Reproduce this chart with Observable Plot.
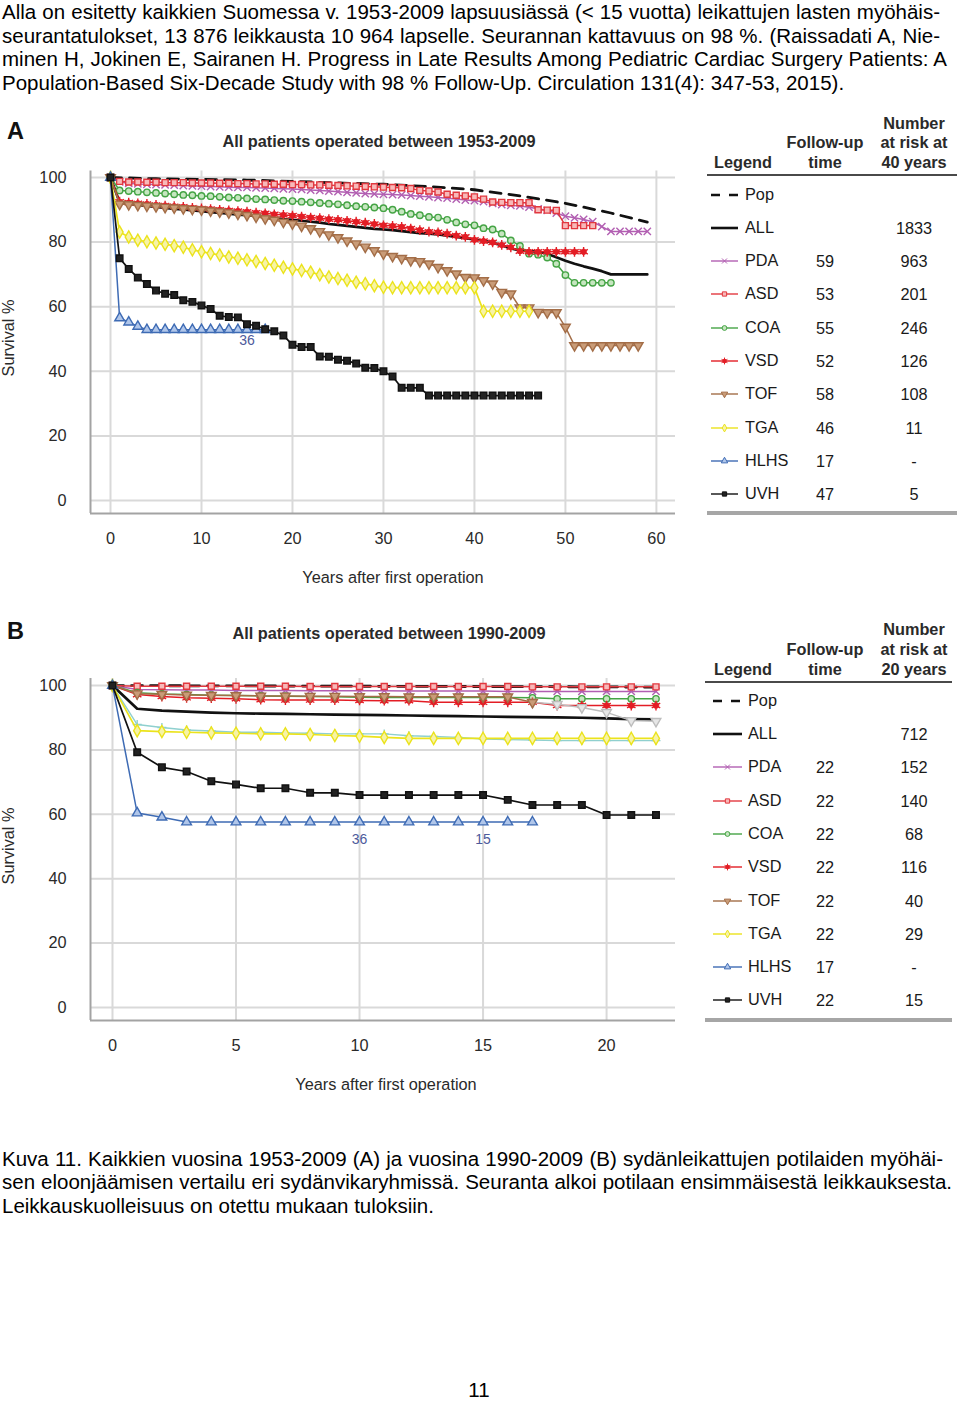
<!DOCTYPE html>
<html><head><meta charset="utf-8">
<script src="https://cdn.jsdelivr.net/npm/d3@7"></script>
<script src="https://cdn.jsdelivr.net/npm/@observablehq/plot@0.6"></script>
<style>
body{margin:0;background:#fff;}
#page{position:relative;width:960px;height:1402px;font-family:"Liberation Sans",Arial,Helvetica,sans-serif;color:#000;overflow:hidden;background:#fff}
.ln{position:absolute;left:2px;font-size:20.5px;line-height:23.5px;height:23.5px;overflow:visible;white-space:normal}
.j{text-align:justify;text-align-last:justify}
.t{position:absolute;white-space:nowrap;line-height:1.1}
.pl{position:absolute;left:0}
</style></head><body><div id="page"></div>
<script>
// ---------- data ----------
const KEYS = ["Pop","ALL","PDA","ASD","COA","VSD","TOF","TGA","HLHS","UVH"];
const followA = ["","","59","53","55","52","58","46","17","47"];
const riskA   = ["","1833","963","201","246","126","108","11","-","5"];
const followB = ["","","22","22","22","22","22","22","17","22"];
const riskB   = ["","712","152","140","68","116","40","29","-","15"];

const xTicksA = [0,10,20,30,40,50,60];
const xTicksB = [0,5,10,15,20];
const yTicks = [0,20,40,60,80,100];

// Panel A (index = years after first operation)
const popYearsA = [0,5,10,15,20,25,30,35,40,45,50,55,59];
const POP_A = [100,99.6,99.4,99.2,98.8,98.3,97.9,97.2,96.2,94.3,92.0,89.0,86.2];
const ALL_A = [100,92.3,91.8,91.5,91.2,90.9,90.6,90.3,90.1,89.8,
 89.6,89.3,89.0,88.8,88.5,88.3,88.0,87.7,87.4,87.1,
 86.9,86.6,86.3,86.0,85.6,85.3,85.0,84.7,84.4,84.1,
 83.9,83.7,83.4,83.1,82.8,82.6,82.4,82.0,81.6,81.2,
 80.8,80.5,79.8,79.0,78.0,77.4,77.2,77.0,76.4,75.3,
 74.2,73.3,72.5,71.8,71.0,70.0,70.0,70.0,70.0,70.0];
const PDA_A = [100,98.6,98.2,98.0,97.9,97.8,97.7,97.6,97.5,97.4,
 97.3,97.2,97.1,97.0,96.9,96.9,96.8,96.7,96.6,96.5,
 96.4,96.3,96.1,96.0,95.8,95.6,95.4,95.2,95.0,94.9,
 94.8,94.7,94.6,94.4,94.2,94.0,93.8,93.6,93.3,93.0,
 92.8,92.5,92.0,91.6,91.4,91.2,90.8,90.3,89.8,89.0,
 88.0,87.5,87.0,86.3,84.8,83.3,83.3,83.3,83.3,83.3];
const ASD_A = [100,98.8,98.6,98.6,98.5,98.5,98.4,98.4,98.4,98.3,
 98.3,98.3,98.2,98.2,98.1,98.1,98.0,98.0,97.9,97.9,
 97.8,97.8,97.7,97.7,97.6,97.5,97.4,97.3,97.2,97.1,
 97.0,96.9,96.8,96.6,96.0,95.8,95.5,94.8,94.5,94.3,
 94.0,93.3,92.4,92.3,92.2,92.2,92.2,90.0,89.9,89.8,
 85.1,85.1,85.1,85.1];
const COA_A = [100,96.0,95.8,95.6,95.4,95.2,95.0,94.8,94.6,94.5,
 94.3,94.2,94.0,93.8,93.7,93.5,93.3,93.2,93.0,92.8,
 92.7,92.5,92.3,92.1,91.9,91.7,91.4,91.1,90.9,90.7,
 90.5,90.0,89.4,88.7,88.3,87.8,87.6,86.9,86.1,85.5,
 85.2,84.3,83.9,82.6,80.5,78.8,76.4,76.1,75.2,73.3,
 69.8,67.4,67.4,67.4,67.4,67.4];
const VSD_A = [100,92.5,92.2,92.0,91.8,91.5,91.3,91.1,90.9,90.6,
 90.4,90.2,90.0,89.8,89.6,89.4,89.1,88.9,88.6,88.4,
 88.2,87.9,87.6,87.4,87.1,86.9,86.6,86.3,86.0,85.6,
 85.2,85.0,84.7,84.2,83.7,83.2,83.0,82.6,82.0,81.6,
 80.7,80.3,79.9,79.1,78.4,77.2,77.0,77.0,77.0,77.0,
 77.0,77.0,77.0];
const TOF_A = [100,91.8,91.6,91.4,91.2,91.0,90.8,90.6,90.4,90.2,
 90.0,89.7,89.4,89.1,88.7,88.3,87.8,87.3,86.8,86.2,
 85.7,85.0,84.2,83.3,82.3,81.4,80.4,79.5,78.5,77.4,
 76.4,75.6,75.0,74.3,74.0,73.3,72.2,71.2,70.2,69.1,
 69.0,68.1,67.1,64.5,64.0,59.7,59.7,58.3,58.2,58.2,
 53.7,48.0,48.0,48.0,48.0,48.0,48.0,48.0,48.0];
const TGA_A = [100,83.1,81.6,80.6,80.1,79.7,79.3,78.9,78.4,77.6,
 77.0,76.5,76.0,75.4,75.0,74.5,74.0,73.4,72.8,72.2,
 71.7,71.2,70.7,69.9,69.2,68.7,68.2,67.6,67.1,66.5,
 66.0,65.9,65.9,65.9,65.9,65.9,65.9,65.9,65.9,65.9,
 65.9,58.6,58.6,58.6,58.6,58.6,58.6];
const HLHS_A = [100,56.5,55.2,53.9,52.9,52.9,52.9,52.9,52.9,52.9,
 52.9,52.9,52.9,52.9,52.9,52.9,52.9,52.9];
const UVH_A = [100,75.0,71.7,69.0,67.0,65.0,64.0,63.6,62.0,61.5,
 60.4,59.3,57.2,56.8,56.7,54.6,54.1,53.0,52.4,51.1,
 48.2,47.5,47.5,44.6,44.5,43.6,43.3,42.4,41.1,41.0,
 40.0,38.4,34.9,34.9,34.9,32.5,32.5,32.5,32.5,32.5,
 32.5,32.5,32.5,32.5,32.5,32.5,32.5,32.5];
const notesA = [{t:15, label:"36"}];

// Panel B
const popYearsB = [0,5,10,15,20,22];
const POP_B = [100,99.9,99.8,99.7,99.6,99.5];
const ALL_B = [100,92.8,92.2,91.9,91.6,91.4,91.3,91.2,91.1,91.0,90.9,90.8,90.7,90.6,90.5,90.4,90.3,90.2,90.1,90.0,89.8,89.6,89.5];
const PDA_B = [100,98.8,98.7,98.6,98.6,98.5,98.5,98.5,98.4,98.4,98.4,98.4,98.3,98.3,98.3,98.3,98.2,98.2,98.2,98.2,98.2,98.2,98.2];
const ASD_B = [100,99.8,99.8,99.8,99.8,99.8,99.8,99.8,99.7,99.7,99.7,99.7,99.7,99.7,99.7,99.7,99.7,99.6,99.6,99.6,99.6,99.6,99.6];
const COA_B = [100,97.8,97.4,97.2,97.0,96.9,96.8,96.7,96.6,96.5,96.4,96.3,96.3,96.3,96.3,96.3,96.3,96.2,95.9,95.9,95.9,95.9,95.9];
const VSD_B = [100,97.2,96.6,96.2,96.1,95.9,95.6,95.5,95.5,95.5,95.4,95.3,95.3,94.8,94.8,94.8,94.8,94.8,93.8,93.8,93.8,93.8,93.8];
const TOF_B = [100,97.5,97.3,97.1,97.0,96.9,96.8,96.8,96.7,96.7,96.6,96.6,96.5,96.5,96.5,96.5,96.5,94.8,94.2,93.2,91.7,89.1,88.9];
const TGA_B = [100,86.0,85.7,85.5,85.3,85.2,85.0,85.0,84.8,84.5,84.3,83.9,83.6,83.6,83.6,83.6,83.6,83.6,83.6,83.6,83.6,83.6,83.6];
const XTRA_B = [100,87.9,87.0,86.2,85.9,85.5,85.5,85.3,85.2,85.0,85.0,85.0,84.4,84.2,83.9,83.4,83.2,83.1,82.9,82.9,82.9,82.9,82.9];
const HLHS_B = [100,60.4,59.1,57.6,57.6,57.6,57.6,57.6,57.6,57.6,57.6,57.6,57.6,57.6,57.6,57.6,57.6,57.6];
const UVH_B = [100,79.3,74.6,73.3,70.3,69.3,68.1,68.1,66.7,66.7,66.0,66.0,66.0,66.0,66.0,66.0,64.5,62.9,62.9,62.9,59.8,59.8,59.8];
const notesB = [{t:10, label:"36"},{t:15, label:"15"}];

// ---------- styles ----------
const sqrt3 = Math.sqrt(3);
const triDown = {draw(ctx, size){const y=-Math.sqrt(size/(sqrt3*3)); ctx.moveTo(0,-y*2); ctx.lineTo(-sqrt3*y,y); ctx.lineTo(sqrt3*y,y); ctx.closePath();}};
const STY = {
  Pop:{color:"#111", w:2.8, dash:"11,8"},
  ALL:{color:"#111", w:2.7},
  PDA:{color:"#b25fb2", w:1.5, sym:"times", fill:"none", r:3.4},
  ASD:{color:"#e2383f", w:1.5, sym:"square", fill:"#f7b9b9", r:3.4},
  COA:{color:"#45a445", w:1.5, sym:"circle", fill:"#c6e6c0", r:3.2},
  VSD:{color:"#e31d25", w:1.5, sym:"vsd", fill:"#e31d25", r:3.0},
  TOF:{color:"#a36d47", w:1.5, sym:triDown, fill:"#c99c78", r:3.6},
  TGA:{color:"#ebe31c", w:1.7, sym:"diamond", fill:"#f7f3a6", r:3.7},
  HLHS:{color:"#3e6bb4", w:1.5, sym:"triangle", fill:"#b0c6ea", r:3.6},
  UVH:{color:"#111", w:1.7, sym:"square", fill:"#222", r:3.7},
  XTRA:{color:"#8fd0cf", w:1.4, sym:"plus", fill:"none", r:3.0},
  FADE:{color:"#bdbdbd", w:1.4, sym:triDown, fill:"#e6e6e6", r:3.6},
};
const FONT = "'Liberation Sans', Arial, Helvetica, sans-serif";

const pts = arr => arr.map((v,t)=>({t,v}));
const ptsY = (years, arr) => years.map((t,i)=>({t, v:arr[i]}));

function seriesMarks(key, data){
  const s = STY[key];
  const m = [Plot.line(data, {x:"t", y:"v", stroke:s.color, strokeWidth:s.w, strokeDasharray:s.dash})];
  if (s.sym === "vsd") {
    m.push(Plot.dot(data, {x:"t", y:"v", r:2.8, fill:s.color, stroke:s.color, strokeWidth:0.8}));
    m.push(Plot.dot(data, {x:"t", y:"v", r:4.6, symbol:"asterisk", stroke:s.color, strokeWidth:1.4}));
  } else if (s.sym) {
    m.push(Plot.dot(data, {x:"t", y:"v", r:s.r, symbol:s.sym, fill:s.fill, stroke:s.color, strokeWidth:1.4}));
  }
  return m;
}

function makePanel(o){
  const marks = [
    Plot.ruleY(yTicks, {stroke:"#d9d9d9", strokeWidth:2}),
    Plot.ruleX(o.xTicks, {stroke:"#d9d9d9", strokeWidth:2}),
    Plot.ruleX([o.xDomain[0]], {stroke:"#a3a3a3", strokeWidth:2}),
    Plot.ruleY([o.yDomain[0]], {stroke:"#a3a3a3", strokeWidth:2}),
  ];
  for (const [k, d, fadeFrom] of o.series) {
    if (fadeFrom != null) {
      marks.push(...seriesMarks("FADE", d.slice(fadeFrom - 1 < 0 ? 0 : fadeFrom)));
      marks.push(...seriesMarks(k, d.slice(0, fadeFrom + 1)));
    } else marks.push(...seriesMarks(k, d));
  }
  marks.push(Plot.text(o.notes, {x:"t", y:d=>o.hlhs[d.t], text:"label", dy:o.noteDy, fill:"#4d5a9b", fontSize:14}));
  return Plot.plot({
    width:700, height:490, marginLeft:90, marginRight:25, marginTop:o.mt, marginBottom:o.mb,
    x:{domain:o.xDomain, ticks:o.xTicks, tickSize:0, tickPadding:19, label:null},
    y:{domain:o.yDomain, ticks:yTicks, tickSize:0, tickPadding:24, label:null},
    style:{fontFamily:FONT, fontSize:"16.3px", color:"#2a2a2a", background:"transparent", overflow:"visible"},
    marks
  });
}

const page = document.getElementById("page");
function put(html, x, y, css, anchor){
  const d = document.createElement("div");
  d.className = "t";
  d.innerHTML = html;
  d.style.left = x+"px"; d.style.top = y+"px";
  const tx = anchor==="start" ? "0" : anchor==="end" ? "-100%" : "-50%";
  d.style.transform = `translate(${tx},-50%)` + (css && css.rot ? " rotate(-90deg)" : "");
  if (css) for (const k in css) if (k!=="rot") d.style[k] = css[k];
  page.appendChild(d);
  return d;
}
function line(text, top, cls, width){
  const d = document.createElement("div");
  d.className = "ln " + (cls||"");
  d.style.top = top+"px";
  if (width) d.style.width = width+"px";
  d.textContent = text;
  page.appendChild(d);
}

// ---------- text above ----------
line("Alla on esitetty kaikkien Suomessa v. 1953-2009 lapsuusiässä (< 15 vuotta) leikattujen lasten myöhäis-", 0, "j", 938);
line("seurantatulokset, 13 876 leikkausta 10 964 lapselle. Seurannan kattavuus on 98 %. (Raissadati A, Nie-", 23.5, "j", 938);
line("minen H, Jokinen E, Sairanen H. Progress in Late Results Among Pediatric Cardiac Surgery Patients: A", 47, "j", 945);
line("Population-Based Six-Decade Study with 98 % Follow-Up. Circulation 131(4): 347-53, 2015).", 70.5, "", 950);

// ---------- panels ----------
const panels = [
  {top:110, letterY:132, title:"All patients operated between 1953-2009", titleX:379, titleY:142,
   xDomain:[-2.2,62.1], yDomain:[-4,102], mt:60.5, mb:87, xTicks:xTicksA,
   series:[["Pop",ptsY(popYearsA,POP_A)],["ALL",pts(ALL_A)],["PDA",pts(PDA_A)],["ASD",pts(ASD_A)],["COA",pts(COA_A)],
           ["VSD",pts(VSD_A)],["TOF",pts(TOF_A)],["TGA",pts(TGA_A)],["HLHS",pts(HLHS_A)],["UVH",pts(UVH_A)]],
   notes:notesA, hlhs:HLHS_A, noteDy:11, survY:338, xlabX:393, xlabY:578,
   leg:{x0:707, x1:957, hdr:[124,143,163], rule:175, bottom:513, row0:194.5, step:33.3, swX:711, swW:27, labX:745, follow:followA, risk:riskA, years:"40 years"}},
  {top:610, letterY:632, title:"All patients operated between 1990-2009", titleX:389, titleY:634,
   xDomain:[-0.89,22.79], yDomain:[-4.04,102.2], mt:68, mb:80, xTicks:xTicksB,
   series:[["Pop",ptsY(popYearsB,POP_B)],["ALL",pts(ALL_B)],["PDA",pts(PDA_B)],["ASD",pts(ASD_B)],["COA",pts(COA_B)],
           ["VSD",pts(VSD_B)],["TOF",pts(TOF_B),17],["XTRA",pts(XTRA_B)],["TGA",pts(TGA_B)],["HLHS",pts(HLHS_B)],["UVH",pts(UVH_B)]],
   notes:notesB, hlhs:HLHS_B, noteDy:17, survY:846, xlabX:386, xlabY:1085,
   leg:{x0:705, x1:952, hdr:[630,650,670], rule:682, bottom:1020, row0:700.7, step:33.3, swX:713, swW:29, labX:748, follow:followB, risk:riskB, years:"20 years"}},
];

const symMap = {times:d3.symbolTimes, square:d3.symbolSquare, circle:d3.symbolCircle, diamond:d3.symbolDiamond, triangle:d3.symbolTriangle, plus:d3.symbolPlus};

panels.forEach((p, pi) => {
  const wrap = document.createElement("div");
  wrap.className = "pl"; wrap.style.top = p.top+"px";
  wrap.appendChild(makePanel(p));
  page.appendChild(wrap);
  put(pi===0?"A":"B", 7, p.letterY, {fontWeight:"bold", fontSize:"23.5px", color:"#111"}, "start");
  put(p.title, p.titleX, p.titleY, {fontWeight:"bold", fontSize:"16.3px", color:"#2a2a2a"});
  put("Survival %", 9, p.survY, {fontSize:"16.3px", color:"#2a2a2a", rot:true});
  put("Years after first operation", p.xlabX, p.xlabY, {fontSize:"16.3px", color:"#2a2a2a"});

  // legend table
  const L = p.leg;
  const hs = {fontWeight:"bold", fontSize:"16.3px", color:"#2a2a2a"};
  put("Legend", 714, L.hdr[2], hs, "start");
  put("Follow-up", 825, L.hdr[1], hs); put("time", 825, L.hdr[2], hs);
  put("Number", 914, L.hdr[0], hs); put("at risk at", 914, L.hdr[1], hs); put(L.years, 914, L.hdr[2], hs);
  const rl = (y, h, c) => { const d=document.createElement("div"); d.style.cssText=`position:absolute;left:${L.x0}px;width:${L.x1-L.x0}px;top:${y-h/2}px;height:${h}px;background:${c}`; page.appendChild(d); };
  rl(L.rule, 2.2, "#4a4a4a"); rl(L.bottom, 4, "#a6a6a6");
  KEYS.forEach((k, i) => {
    const y = L.row0 + i*L.step;
    const s = STY[k];
    const svg = d3.create("svg").attr("width", L.swW+4).attr("height", 14)
      .style("position","absolute").style("left",(L.swX-2)+"px").style("top",(y-7)+"px");
    svg.append("line").attr("x1",2).attr("x2",L.swW+2).attr("y1",7).attr("y2",7)
      .attr("stroke",s.color).attr("stroke-width", k==="Pop"||k==="ALL"?2.6:1.4)
      .attr("stroke-dasharray", k==="Pop"?"9,9":null);
    if (s.sym) {
      const g = svg.append("g").attr("transform",`translate(${L.swW/2+2},7)`);
      if (s.sym==="vsd") {
        g.append("circle").attr("r",2.2).attr("fill",s.color);
        g.append("path").attr("d", d3.symbol(d3.symbolAsterisk, Math.PI*3.2*3.2)()).attr("stroke",s.color).attr("stroke-width",1).attr("fill","none");
      } else {
        const type = typeof s.sym === "string" ? symMap[s.sym] : s.sym;
        g.append("path").attr("d", d3.symbol(type, Math.PI*2.4*2.4)()).attr("fill", s.fill).attr("stroke", s.color).attr("stroke-width",1);
      }
    }
    page.appendChild(svg.node());
    const rs = {fontSize:"16.3px", color:"#1a1a1a"};
    put(k, L.labX, y, rs, "start");
    if (L.follow[i]) put(L.follow[i], 825, y+1, rs);
    if (L.risk[i]) put(L.risk[i], 914, y+1, rs);
  });
});

// ---------- caption ----------
line("Kuva 11. Kaikkien vuosina 1953-2009 (A) ja vuosina 1990-2009 (B) sydänleikattujen potilaiden myöhäi-", 1146.5, "j", 941);
line("sen eloonjäämisen vertailu eri sydänvikaryhmissä. Seuranta alkoi potilaan ensimmäisestä leikkauksesta.", 1170.3, "j", 950);
line("Leikkauskuolleisuus on otettu mukaan tuloksiin.", 1194, "", 950);
put("11", 479, 1390, {fontSize:"20.5px", lineHeight:"1"});
</script></body></html>
